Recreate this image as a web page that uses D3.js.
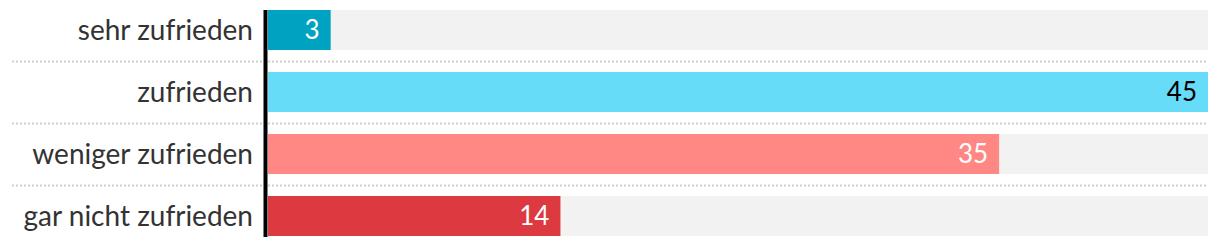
<!DOCTYPE html>
<html>
  <head>
    <meta charset="utf-8">
    <script src="https://d3js.org/d3.v7.min.js"></script>
    <style>
      body { margin: 0; background: #fff; }
      text { font-family: Lato, "Source Sans Pro", sans-serif; }
    </style>
  </head>
  <body>
    <svg width="1220" height="246"></svg>
    <script>
      // data
      const categories = ["sehr zufrieden", "zufrieden", "weniger zufrieden", "gar nicht zufrieden"];
      const values = [3, 45, 35, 14];
      const colors = ["#00a2c2", "#66dcf8", "#ff8784", "#dc3a40"];
      const valueColors = ["#ffffff", "#000000", "#ffffff", "#ffffff"];
      const maxValue = 45;

      const rows = categories.map((c, i) => ({ cat: c, value: values[i], color: colors[i], tc: valueColors[i] }));

      const svg = d3.select("svg");

      // layout
      const plotLeft = 268, plotRight = 1208, plotTop = 0, rowH = 62;

      const x = d3.scaleLinear().domain([0, maxValue]).range([plotLeft, plotRight]);
      const y = d3.scaleBand().domain(categories).range([plotTop, plotTop + rowH * categories.length]).paddingInner(0);

      const barH = 40;
      const barOff = 10;

      // dotted separators between rows
      svg.selectAll(".sep")
        .data(categories.slice(1))
        .enter().append("line")
        .attr("x1", 12)
        .attr("x2", plotRight)
        .attr("y1", d => y(d) - 0.5)
        .attr("y2", d => y(d) - 0.5)
        .attr("stroke", "#cfcfcf")
        .attr("stroke-width", 2)
        .attr("stroke-dasharray", "2,2");

      // background bars
      svg.selectAll(".bg")
        .data(rows)
        .enter().append("rect")
        .attr("x", x(0))
        .attr("y", d => y(d.cat) + barOff)
        .attr("width", x(maxValue) - x(0))
        .attr("height", barH)
        .attr("fill", "#f2f2f2");

      // value bars
      svg.selectAll(".bar")
        .data(rows)
        .enter().append("rect")
        .attr("x", x(0))
        .attr("y", d => y(d.cat) + barOff)
        .attr("width", d => x(d.value) - x(0))
        .attr("height", barH)
        .attr("fill", d => d.color);

      // value labels
      svg.selectAll(".val")
        .data(rows)
        .enter().append("text")
        .attr("x", d => x(d.value) - 11)
        .attr("y", d => y(d.cat) + barOff + barH / 2)
        .attr("dy", "0.36em")
        .attr("text-anchor", "end")
        .style("font-size", "26px")
        .attr("fill", d => d.tc)
        .text(d => d.value);

      // category labels
      svg.selectAll(".cat")
        .data(rows)
        .enter().append("text")
        .attr("x", 253)
        .attr("y", d => y(d.cat) + barOff + barH / 2)
        .attr("dy", "0.36em")
        .attr("text-anchor", "end")
        .style("font-size", "28px")
        .attr("fill", "#333333")
        .text(d => d.cat);

      // axis line
      svg.append("line")
        .attr("x1", 265.5)
        .attr("x2", 265.5)
        .attr("y1", y(categories[0]) + barOff)
        .attr("y2", y(categories[3]) + barOff + barH + 1)
        .attr("stroke", "#000")
        .attr("stroke-width", 4);
    </script>
  </body>
</html>
